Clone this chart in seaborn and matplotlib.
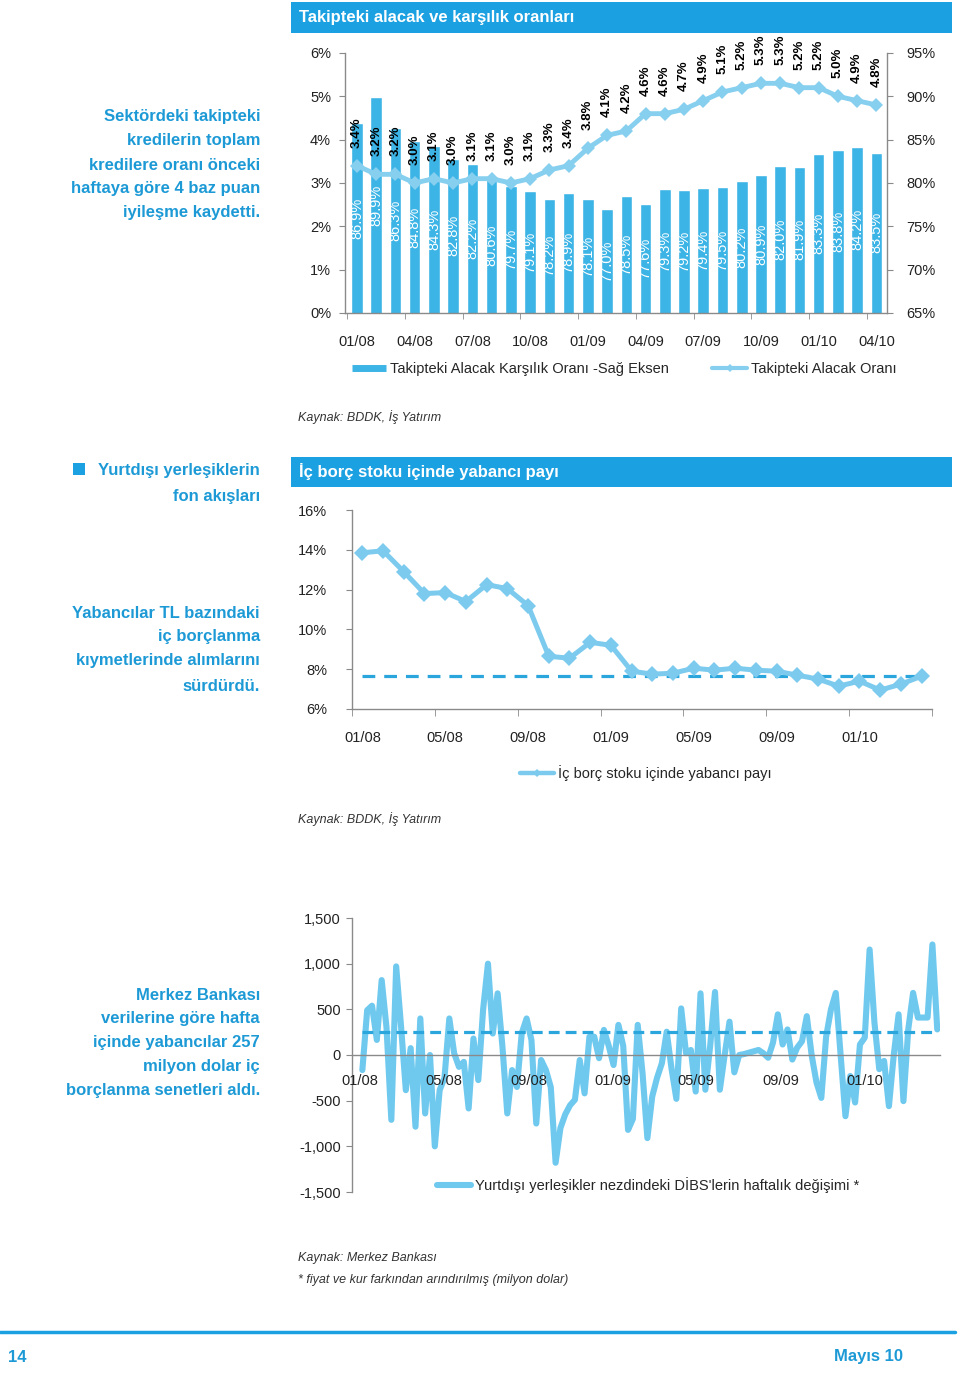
import numpy as np
import pandas as pd
import matplotlib
matplotlib.use('Agg')
import matplotlib.pyplot as plt
import seaborn as sns
from matplotlib.patches import Rectangle
from matplotlib.lines import Line2D
from matplotlib.ticker import FuncFormatter

sns.set_style('white')
plt.rcParams['font.family'] = ['Liberation Sans', 'DejaVu Sans']

# ---------------- data ----------------
months = pd.date_range('2008-01-01', periods=28, freq='MS').strftime('%m/%y').tolist()
coverage_ratio = [86.9, 89.9, 86.3, 84.8, 84.3, 82.8, 82.2, 80.6, 79.7, 79.1, 78.2, 78.9, 78.1, 77.0,
                  78.5, 77.6, 79.3, 79.2, 79.4, 79.5, 80.2, 80.9, 82.0, 81.9, 83.3, 83.8, 84.2, 83.5]
npl_ratio = [3.4, 3.2, 3.2, 3.0, 3.1, 3.0, 3.1, 3.1, 3.0, 3.1, 3.3, 3.4, 3.8, 4.1,
             4.2, 4.6, 4.6, 4.7, 4.9, 5.1, 5.2, 5.3, 5.3, 5.2, 5.2, 5.0, 4.9, 4.8]

foreign_share = [13.85, 13.95, 12.9, 11.8, 11.85, 11.4, 12.25, 12.05, 11.2, 8.65, 8.55, 9.35, 9.2, 7.9,
                 7.75, 7.8, 8.05, 7.95, 8.05, 7.95, 7.9, 7.7, 7.5, 7.15, 7.4, 6.95, 7.25, 7.65]
foreign_share_avg = 7.65

weekly_change = [-165, 490, 540, 165, 820, 300, -710, 970, 320, -385,
                 75, -785, 400, -640, 0, -1000, -385, -250, 400, 20,
                 -130, -75, -585, 180, -275, 500, 1000, 235, 675, 90,
                 -640, -165, -350, 240, 400, 165, -750, -55, -165, -350,
                 -1180, -800, -650, -550, -490, -55, -420, 200, 200, -35,
                 275, 100, -110, 330, 100, -820, -700, 330, -200, -910,
                 -455, -250, -90, 255, -150, -480, 510, 20, 55, -400,
                 675, -380, 100, 690, -380, 0, 365, -190, 0, 10,
                 25, 40, 55, 20, -30, 135, 445, 115, 280, -50,
                 80, 150, 425, 0, -300, -470, 200, 500, 680, 0,
                 -670, -230, -520, 115, 190, 1155, 355, -155, -65, -560,
                 0, 445, -505, 280, 680, 410, 410, 410, 1210, 280]
weekly_avg = 257
weeks = pd.date_range('2008-01-04', periods=len(weekly_change), freq='7D')
week_ticks = pd.to_datetime(['2008-01-01', '2008-05-01', '2008-09-01', '2009-01-01',
                             '2009-05-01', '2009-09-01', '2010-01-01'])

# ---------------- styling ----------------
W, H = 960, 1375
HDR = '#1ba1e2'
BAR = '#3cb4e6'
LINE1 = '#86cfef'
LINE2 = '#7ccbee'
LINE3 = '#6fc9ef'
DASH = '#2aa6dc'
TXT_BLUE = '#1d9ad6'
GRAY = '#8a8a8a'
TK = '#222222'


def rect(x0, y0, x1, y1):
    return [x0 / W, 1 - y1 / H, (x1 - x0) / W, (y1 - y0) / H]


def fx(x):
    return x / W


def fy(y):
    return 1 - y / H


fig = plt.figure(figsize=(9.6, 13.75), dpi=100)
fig.patch.set_facecolor('white')


def header(y0, y1, text):
    fig.add_artist(Rectangle((fx(291), fy(y1)), fx(952) - fx(291), fy(y0) - fy(y1),
                             transform=fig.transFigure, color=HDR, lw=0))
    fig.text(fx(299), fy((y0 + y1) / 2), text, color='white', fontsize=12,
             fontweight='bold', va='center', ha='left')


def note(lines, ys):
    for t, y in zip(lines, ys):
        fig.text(fx(260), fy(y), t, ha='right', va='center', fontsize=12,
                 fontweight='bold', color=TXT_BLUE)


def style_spines(ax, sides):
    for s in ['left', 'right', 'top', 'bottom']:
        ax.spines[s].set_visible(s in sides)
        ax.spines[s].set_color(GRAY)
        ax.spines[s].set_linewidth(1)


pct = FuncFormatter(lambda v, p: f'{v:.0f}%')

# ================= Chart 1 =================
header(2, 33, 'Takipteki alacak ve karşılık oranları')
note(['Sektördeki takipteki', 'kredilerin toplam', 'kredilere oranı önceki',
      'haftaya göre 4 baz puan', 'iyileşme kaydetti.'], [117, 141, 165, 189, 213])

df1 = pd.DataFrame({'month': months, 'coverage': coverage_ratio, 'npl': npl_ratio,
                    'pos': np.arange(len(months))})
axr = fig.add_axes(rect(345, 53, 887, 313))
sns.barplot(data=df1, x='month', y='coverage', ax=axr, color=BAR, width=0.6,
            saturation=1, order=months)
axl = axr.twinx()
sns.lineplot(data=df1, x='pos', y='npl', ax=axl, color=LINE1, lw=3.5, marker='D',
             markersize=7, markeredgewidth=0)
axr.set_ylim(65, 95)
axr.set_yticks(range(65, 96, 5))
axr.yaxis.set_major_formatter(pct)
axr.yaxis.tick_right()
axl.set_ylim(0, 6)
axl.set_yticks(range(0, 7))
axl.yaxis.set_major_formatter(pct)
axl.yaxis.tick_left()
for a in (axr, axl):
    a.set_xlim(-0.62, 27.55)
    a.set_xlabel('')
    a.set_ylabel('')
axr.set_xticks(range(0, 28, 3))
axr.set_xticklabels(months[::3])
axr.set_xticks(np.arange(-0.5, 28, 3), minor=True)
axr.tick_params(axis='x', which='major', length=0, pad=16, labelsize=10.5, labelcolor=TK)
axr.tick_params(axis='x', which='minor', length=4, color=GRAY, direction='out', bottom=True)
axr.tick_params(axis='y', length=4, color=GRAY, direction='out', pad=10, labelsize=10.5,
                labelcolor=TK, right=True, left=False, labelright=True, labelleft=False)
axl.tick_params(axis='y', length=4, color=GRAY, direction='out', pad=6, labelsize=10.5,
                labelcolor=TK, left=True, right=False, labelleft=True, labelright=False)
style_spines(axr, ['left', 'right', 'bottom'])
style_spines(axl, [])

for i, v in enumerate(coverage_ratio):
    axl.text(i, (65 + v) / 2, f'{v:.1f}%', transform=axr.transData, rotation=90,
             ha='center', va='center', color='white', fontsize=10.5, zorder=6)
for i, v in enumerate(npl_ratio):
    axl.annotate(f'{v:.1f}%', (i, v), xytext=(0, 13), textcoords='offset points',
                 rotation=90, ha='center', va='bottom', fontsize=9.5, fontweight='bold',
                 color='black', zorder=6, annotation_clip=False)

h_bar = Line2D([], [], color=BAR, lw=5, solid_capstyle='butt')
h_line = Line2D([], [], color=LINE1, lw=3, marker='D', markersize=4, markeredgewidth=0)
fig.legend([h_bar], ['Takipteki Alacak Karşılık Oranı -Sağ Eksen'],
           loc='center left', bbox_to_anchor=(fx(352), fy(369)), frameon=False,
           fontsize=10.5, handlelength=2.3, handletextpad=0.3, borderpad=0,
           borderaxespad=0)
fig.legend([h_line], ['Takipteki Alacak Oranı'],
           loc='center left', bbox_to_anchor=(fx(712), fy(369)), frameon=False,
           fontsize=10.5, handlelength=2.4, handletextpad=0.3, borderpad=0,
           borderaxespad=0)
fig.text(fx(298), fy(417), 'Kaynak: BDDK, İş Yatırım', fontsize=9, style='italic',
         color='#333333', va='center')

# ================= Chart 2 =================
header(457, 487, 'İç borç stoku içinde yabancı payı')
fig.add_artist(Rectangle((fx(73), fy(475)), fx(12), fy(463) - fy(475),
                         transform=fig.transFigure, color=HDR, lw=0))
note(['Yurtdışı yerleşiklerin', 'fon akışları'], [471, 497])
note(['Yabancılar TL bazındaki', 'iç borçlanma', 'kıymetlerinde alımlarını', 'sürdürdü.'],
     [613, 637, 661, 686])

df2 = pd.DataFrame({'pos': np.arange(len(foreign_share)), 'share': foreign_share})
ax2 = fig.add_axes(rect(352, 510, 932, 709))
sns.lineplot(data=df2, x='pos', y='share', ax=ax2, color=LINE2, lw=3.6, marker='D',
             markersize=8, markeredgewidth=0, zorder=3)
ax2.hlines(foreign_share_avg, df2['pos'].iloc[0], df2['pos'].iloc[-1], colors=DASH,
           linestyles=(0, (4, 2.8)), lw=2.3, zorder=2)
ax2.set_ylim(6, 16)
ax2.set_yticks(range(6, 17, 2))
ax2.yaxis.set_major_formatter(pct)
ax2.set_xlim(-0.5, 27.5)
ax2.set_xticks(range(0, 28, 4))
ax2.set_xticklabels(months[::4])
ax2.set_xticks(np.arange(-0.5, 28, 4), minor=True)
ax2.set_xlabel('')
ax2.set_ylabel('')
ax2.tick_params(axis='x', which='major', length=0, pad=16, labelsize=10.5, labelcolor=TK)
ax2.tick_params(axis='x', which='minor', length=5, color=GRAY, direction='out', bottom=True)
ax2.tick_params(axis='y', length=4, color=GRAY, direction='out', pad=14, labelsize=10.5,
                labelcolor=TK, left=True)
style_spines(ax2, ['left', 'bottom'])
h2 = Line2D([], [], color=LINE2, lw=3.2, marker='D', markersize=4, markeredgewidth=0)
fig.legend([h2], ['İç borç stoku içinde yabancı payı'], loc='center left',
           bbox_to_anchor=(fx(520), fy(773)), frameon=False, fontsize=10.5,
           handlelength=2.3, handletextpad=0.3, borderpad=0, borderaxespad=0)
fig.text(fx(298), fy(819), 'Kaynak: BDDK, İş Yatırım', fontsize=9, style='italic',
         color='#333333', va='center')

# ================= Chart 3 =================
note(['Merkez Bankası', 'verilerine göre hafta', 'içinde yabancılar 257',
      'milyon dolar iç', 'borçlanma senetleri aldı.'], [995, 1019, 1043, 1067, 1091])

df3 = pd.DataFrame({'week': weeks, 'change': weekly_change})
ax3 = fig.add_axes(rect(352, 918, 940, 1192))
sns.lineplot(data=df3, x='week', y='change', ax=ax3, color=LINE3, lw=4.4,
             solid_joinstyle='round', solid_capstyle='round', zorder=2,
             label='Yurtdışı yerleşikler nezdindeki DİBS\'lerin haftalık değişimi *')
ax3.hlines(weekly_avg, weeks[0], weeks[-1], colors=DASH, linestyles=(0, (3.4, 1.9)),
           lw=2.3, zorder=2.2)
ax3.set_axisbelow(False)
ax3.set_ylim(-1500, 1500)
ax3.set_yticks(range(-1500, 1501, 500))
ax3.yaxis.set_major_formatter(FuncFormatter(lambda v, p: f'{v:,.0f}'))
ax3.set_xlim(pd.Timestamp('2007-12-20'), pd.Timestamp('2010-04-20'))
ax3.set_xticks(week_ticks)
ax3.set_xticklabels(week_ticks.strftime('%m/%y'))
ax3.set_xlabel('')
ax3.set_ylabel('')
style_spines(ax3, ['left', 'bottom'])
ax3.spines['bottom'].set_position(('data', 0))
ax3.tick_params(axis='x', length=3, color=GRAY, direction='out', pad=11, labelsize=10.5,
                labelcolor=TK)
ax3.tick_params(axis='y', length=4, color=GRAY, direction='out', pad=4, labelsize=10.5,
                labelcolor=TK, left=True)
ax3.legend(loc='center left', bbox_to_anchor=((437 - 352) / 588, (1192 - 1185) / 274),
           frameon=False, fontsize=10.5, handlelength=2.3, handletextpad=0.3,
           borderpad=0, borderaxespad=0)

fig.text(fx(298), fy(1258), 'Kaynak: Merkez Bankası', fontsize=9, style='italic',
         color='#333333', va='center')
fig.text(fx(298), fy(1280), '* fiyat ve kur farkından arındırılmış (milyon dolar)',
         fontsize=9, style='italic', color='#333333', va='center')

# ================= footer =================
fig.add_artist(Line2D([0, fx(955)], [fy(1332), fy(1332)], transform=fig.transFigure,
                      color=HDR, lw=2.5))
fig.text(fx(8), fy(1358), '14', fontsize=12, fontweight='bold', color=TXT_BLUE,
         va='center', ha='left')
fig.text(fx(903), fy(1356), 'Mayıs 10', fontsize=12, fontweight='bold', color=TXT_BLUE,
         va='center', ha='right')

fig.savefig('out.png', dpi=100, facecolor='white')
